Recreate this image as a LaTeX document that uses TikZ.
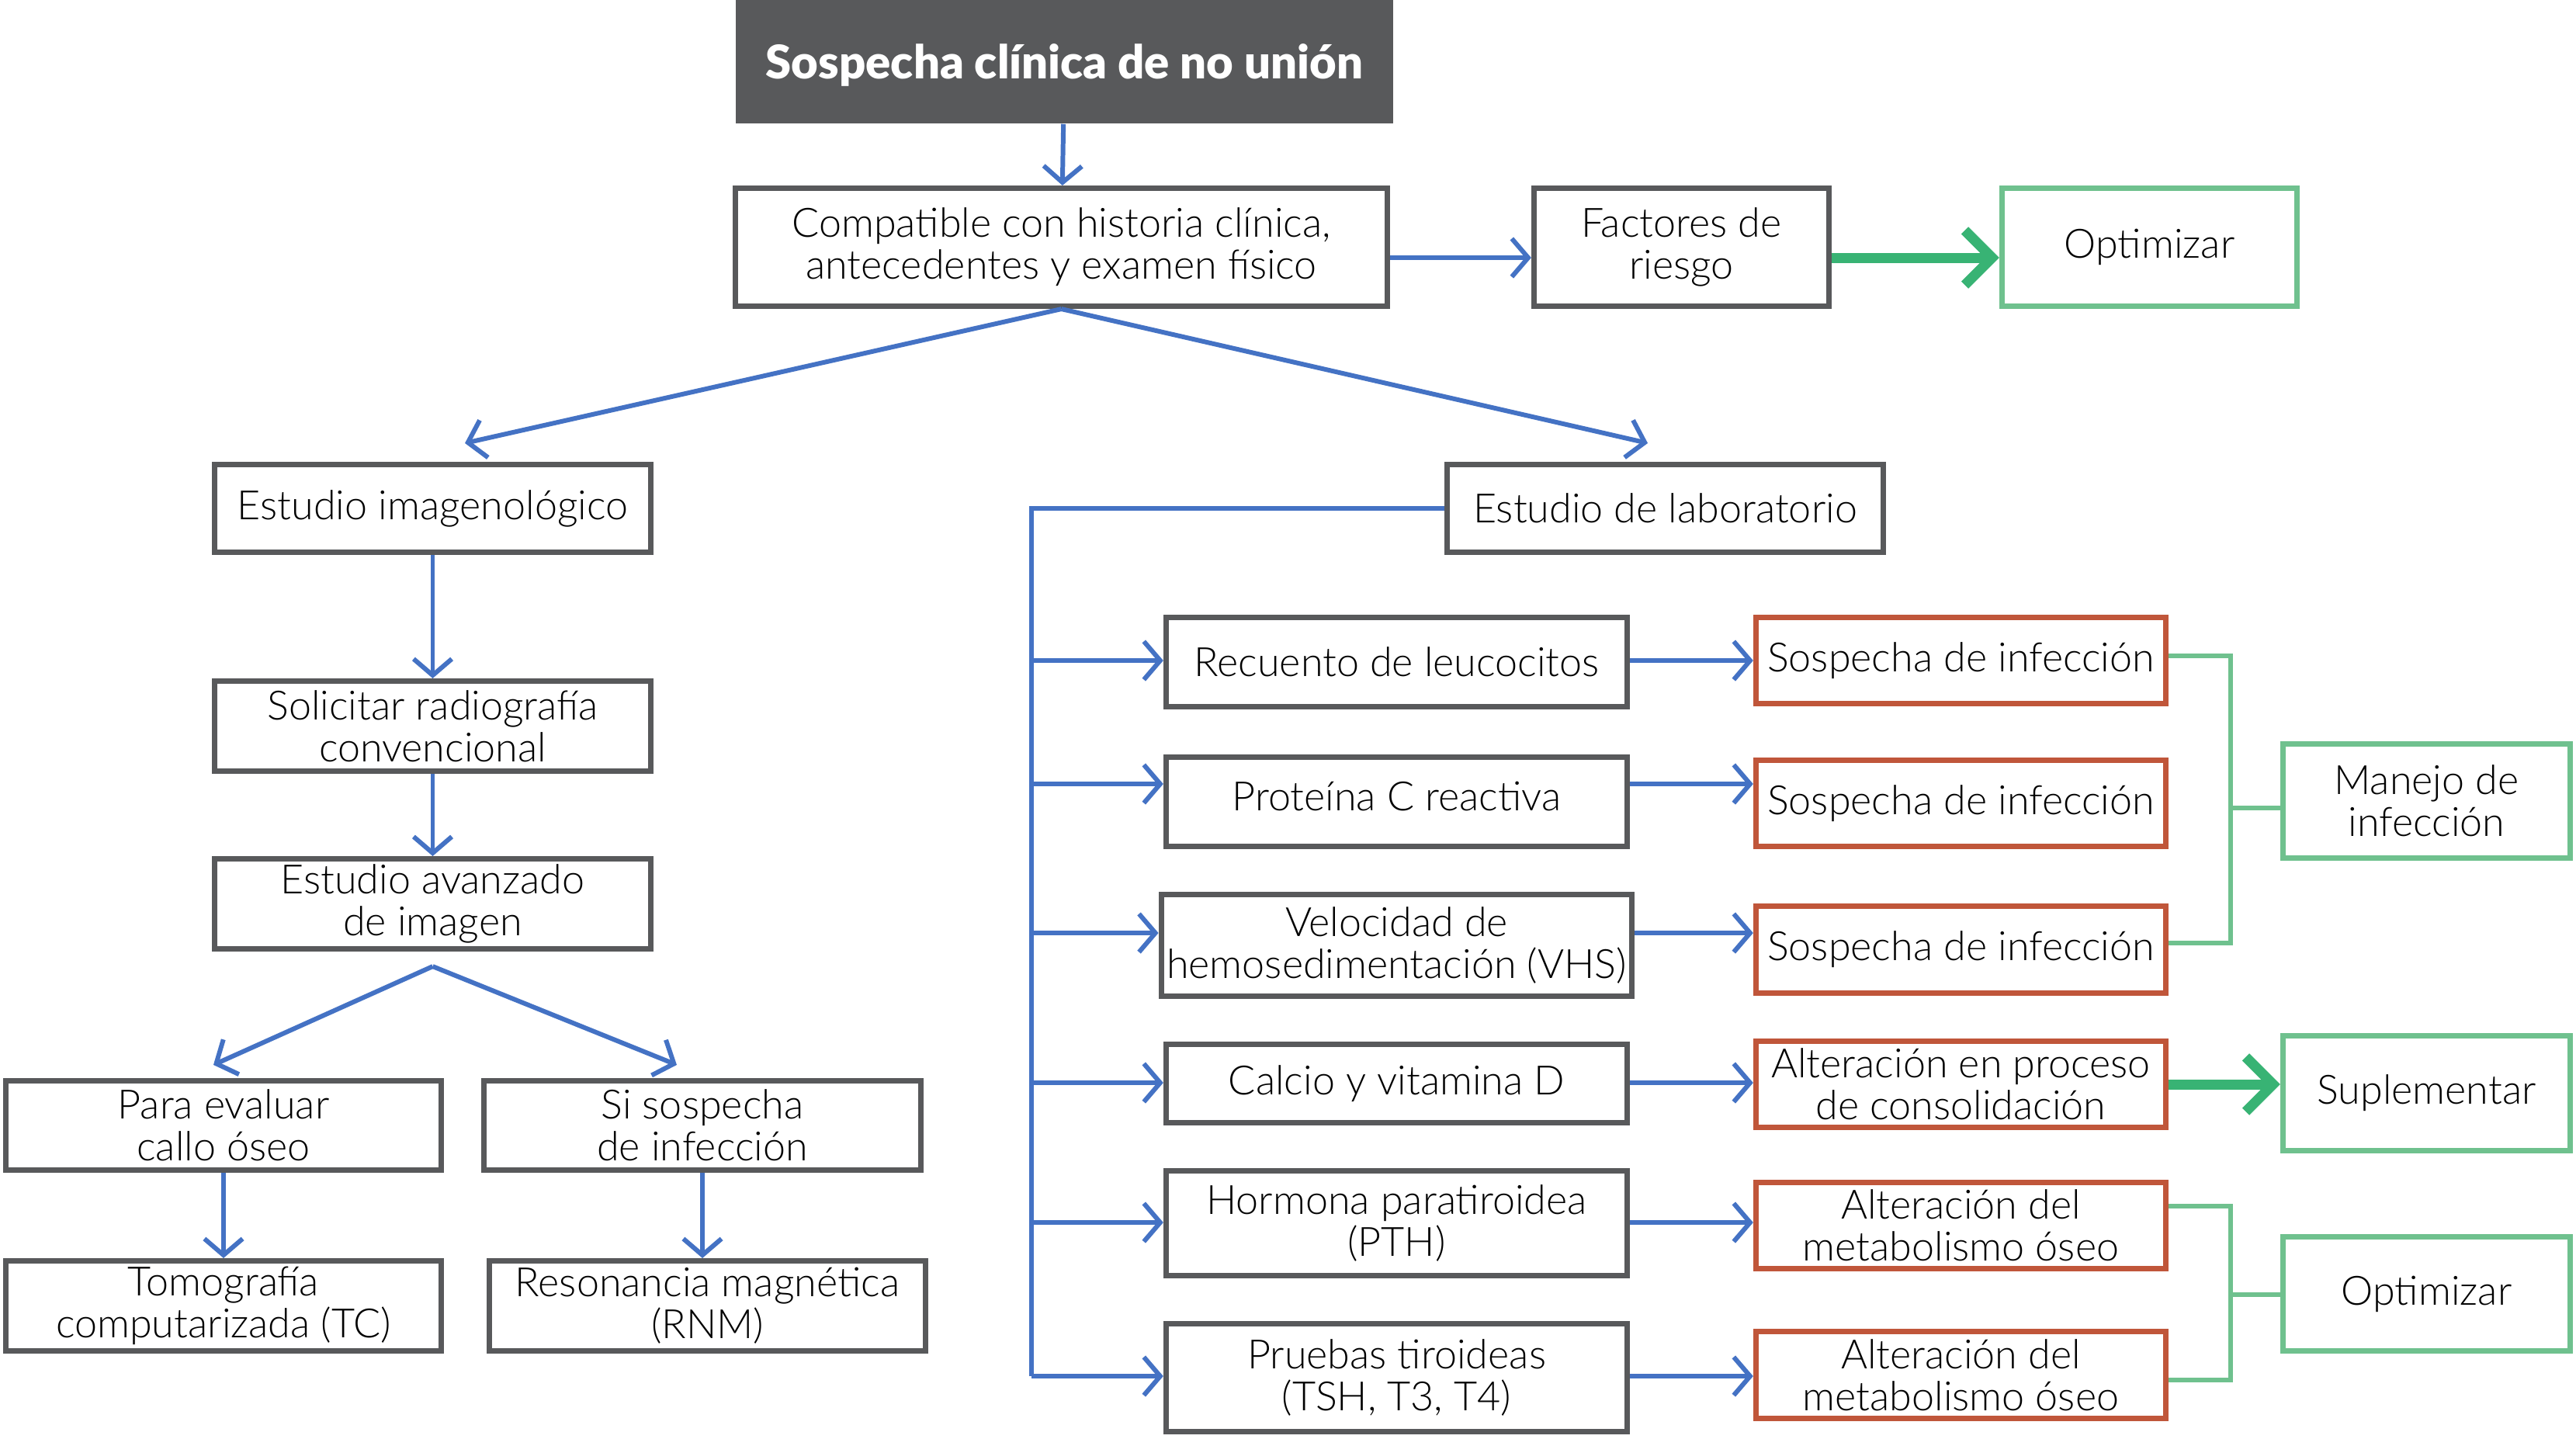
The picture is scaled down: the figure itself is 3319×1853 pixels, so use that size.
\documentclass[tikz,border=0pt]{standalone}
\usepackage{fontspec}
\setmainfont{Lato Light}[BoldFont={Lato Black}]
\usetikzlibrary{arrows.meta, positioning}

\definecolor{boxgray}{HTML}{58595B}
\definecolor{arrblue}{HTML}{4472C4}
\definecolor{alertred}{HTML}{C0563A}
\definecolor{softgreen}{HTML}{6FC18E}
\definecolor{deepgreen}{HTML}{38B374}

\begin{document}
\begin{tikzpicture}[
        x=0.01cm, y=-0.01cm,
        box/.style={rectangle, draw=boxgray, line width=2pt, fill=white,
                    align=center, inner sep=2pt,
                    font=\fontsize{14.8}{15.4}\selectfont},
        redbox/.style={box, draw=alertred},
        greenbox/.style={box, draw=softgreen},
        titlebox/.style={rectangle, fill=boxgray, text=white, align=center,
                    font=\fontsize{17}{19}\selectfont\bfseries, text depth=0pt,
                    minimum width=8.47cm, minimum height=1.59cm},
        arr/.style={-{Straight Barb[length=6pt, width=14pt]}, line width=1.7pt, arrblue},
        garr/.style={-{Straight Barb[length=10pt, width=20pt]}, line width=3.7pt, deepgreen},
        spine/.style={line width=1.7pt, arrblue},
        gline/.style={line width=1.7pt, softgreen},
    ]
    \useasboundingbox (0,0) rectangle (3319,1853);

    % top of the chart
    \node[titlebox] (title) at (1371.5,79.5) {Sospecha clínica de no unión};
    \node[box, minimum width=8.40cm, minimum height=1.52cm] (compat) at (1367.5,318.5)
        {Compatible con historia clínica,\\antecedentes y examen físico};
    \node[box, minimum width=3.80cm, minimum height=1.52cm] (factores) at (2166.5,318.5)
        {Factores de\\riesgo};
    \node[greenbox, minimum width=3.80cm, minimum height=1.52cm] (opt1) at (2769.5,318.5)
        {Optimizar};

    % imaging branch
    \node[box, minimum width=5.62cm, minimum height=1.13cm] (imagen) at (557.5,655)
        {Estudio imagenológico};
    \node[box, minimum width=5.62cm, minimum height=1.16cm] (radio) at (557.5,935.5)
        {Solicitar radiografía\\convencional};
    \node[box, minimum width=5.62cm, minimum height=1.16cm] (avanz) at (557.5,1164.5)
        {Estudio avanzado\\de imagen};
    \node[box, minimum width=5.61cm, minimum height=1.15cm] (para) at (288,1450)
        {Para evaluar\\callo óseo};
    \node[box, minimum width=5.63cm, minimum height=1.15cm] (sisos) at (905,1450)
        {Si sospecha\\de infección};
    \node[box, minimum width=5.61cm, minimum height=1.16cm] (tomo) at (288,1682.5)
        {Tomografía\\computarizada (TC)};
    \node[box, minimum width=5.62cm, minimum height=1.16cm] (reso) at (911.5,1682.5)
        {Resonancia magnética\\(RNM)};

    % laboratory branch
    \node[box, minimum width=5.62cm, minimum height=1.13cm] (lab) at (2145.5,655)
        {Estudio de laboratorio};
    \node[box, minimum width=5.94cm, minimum height=1.15cm] (rec) at (1799.5,853)
        {Recuento de leucocitos};
    \node[box, minimum width=5.94cm, minimum height=1.15cm] (pcr) at (1799.5,1033)
        {\raisebox{0.15cm}{Proteína C reactiva}};
    \node[box, minimum width=5.94cm, minimum height=1.31cm] (vhs) at (1799.5,1218)
        {Velocidad de\\hemosedimentación (VHS)};
    \node[box, minimum width=5.94cm, minimum height=1.01cm] (cal) at (1799.5,1396)
        {Calcio y vitamina D};
    \node[box, minimum width=5.94cm, minimum height=1.35cm] (pth) at (1799.5,1576)
        {Hormona paratiroidea\\(PTH)};
    \node[box, minimum width=5.94cm, minimum height=1.39cm] (tir) at (1799.5,1775)
        {Pruebas tiroideas\\(TSH, T3, T4)};

    % findings
    \node[redbox, minimum width=5.28cm, minimum height=1.11cm] (s1) at (2526.5,851)
        {Sospecha de infección};
    \node[redbox, minimum width=5.28cm, minimum height=1.11cm] (s2) at (2526.5,1035)
        {Sospecha de infección};
    \node[redbox, minimum width=5.28cm, minimum height=1.12cm] (s3) at (2526.5,1223.5)
        {Sospecha de infección};
    \node[redbox, minimum width=5.28cm, minimum height=1.11cm] (alt) at (2526.5,1397)
        {Alteración en proceso\\de consolidación};
    \node[redbox, minimum width=5.28cm, minimum height=1.11cm] (m1) at (2526.5,1579)
        {Alteración del\\metabolismo óseo};
    \node[redbox, minimum width=5.28cm, minimum height=1.12cm] (m2) at (2526.5,1771.5)
        {Alteración del\\metabolismo óseo};

    % actions
    \node[greenbox, minimum width=3.70cm, minimum height=1.47cm] (manejo) at (3126.5,1032)
        {Manejo de\\infección};
    \node[greenbox, minimum width=3.70cm, minimum height=1.48cm] (supl) at (3126.5,1408.5)
        {Suplementar};
    \node[greenbox, minimum width=3.70cm, minimum height=1.47cm] (opt2) at (3126.5,1667)
        {Optimizar};

    % connectors
    \draw[arr] (title) -- (compat);
    \draw[arr] ([yshift=-0.135cm]compat.east) -- ([yshift=-0.135cm]factores.west);
    \draw[garr] ([yshift=-0.135cm]factores.east) -- ([yshift=-0.135cm]opt1.west);
    \draw[arr] (compat.south) -- ([shift={(0.415cm,0.24cm)}]imagen.north);
    \draw[arr] (compat.south) -- ([shift={(-0.225cm,0.24cm)}]lab.north);
    \draw[arr] (imagen) -- (radio);
    \draw[arr] (radio) -- (avanz);
    \draw[arr] ([yshift=-0.19cm]avanz.south) -- ([shift={(-0.13cm,0.17cm)}]para.north);
    \draw[arr] ([yshift=-0.19cm]avanz.south) -- ([shift={(-0.33cm,0.17cm)}]sisos.north);
    \draw[arr] (para) -- (tomo);
    \draw[arr] (sisos.south) -- (sisos.south |- reso.north);

    \foreach \a/\b/\y in {rec/s1/851, pcr/s2/1010, vhs/s3/1202,
                          cal/alt/1395, pth/m1/1575, tir/m2/1773} {
        \coordinate (r\a) at (1329,\y);
        \draw[arr] (r\a) -- (\a.west |- r\a);
        \draw[arr] (\a.east |- r\a) -- (\b.west |- r\a);
    }
    \draw[spine] (lab.west) -| (rtir);
    \draw[garr] (alt.east) -- (alt.east -| supl.west);

    % brackets
    \coordinate (b1) at (2874,1041);
    \coordinate (b2) at (2874,1668);
    \draw[gline] ([yshift=0.06cm]s1.east) -| (b1) |- ([yshift=0.085cm]s3.east);
    \draw[gline] (b1) -- (b1 -| manejo.west);
    \draw[gline] ([yshift=0.25cm]m1.east) -| (b2) |- ([yshift=-0.065cm]m2.east);
    \draw[gline] (b2) -- (b2 -| opt2.west);
\end{tikzpicture}
\end{document}
